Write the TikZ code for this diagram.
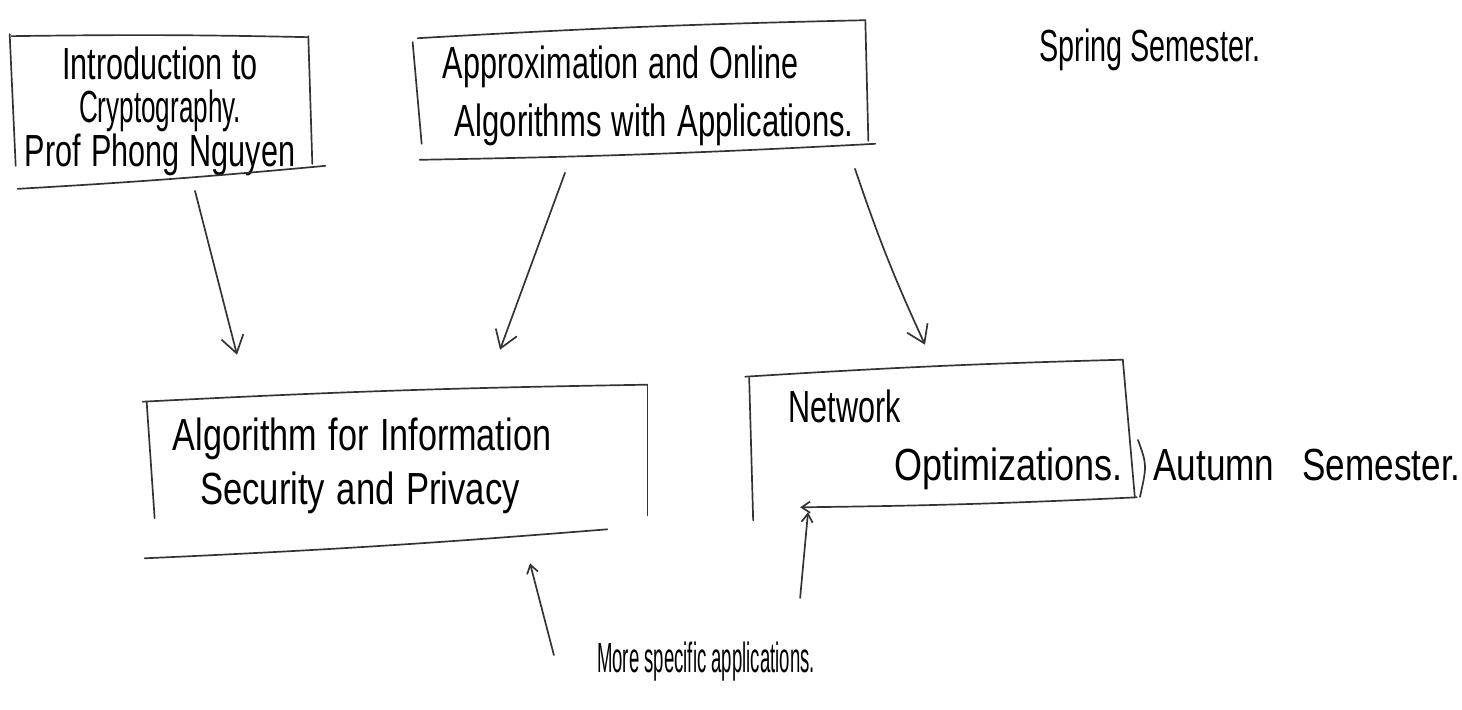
\documentclass[tikz,border=0pt]{standalone}
\usepackage{fontspec}
\setmainfont{Liberation Sans}
\usetikzlibrary{calc,arrows.meta}
\newcommand\hw[2][0.68]{\scalebox{#1}[1]{#2}}
\begin{document}
\begin{tikzpicture}[x=0.025cm,y=-0.025cm,
  hand/.style={line width=1.2pt, draw=black!80, line cap=round, line join=round},
  arr/.style={hand, -{Straight Barb[length=12pt,width=16pt,line width=1.2pt]}},
  smallarr/.style={hand, -{Straight Barb[length=6pt,width=8pt,line width=1.2pt]}},
  box/.style={inner ysep=0pt, font=\fontsize{32}{33}\selectfont},
  lbl/.style={inner sep=0pt, font=\fontsize{32}{33}\selectfont}]
\fill[white] (0,0) rectangle (1462,710);
\useasboundingbox (0,0) rectangle (1462,710);

% boxes
\node[box, minimum width=7.5cm, minimum height=2.95cm, text width=7cm, inner xsep=0.25cm, align=center] (crypto) at (160,111)
  {\hw{Introduction to}\\[-2pt]\hw[0.58]{Cryptography.}\\[-2pt]\hw{Prof Phong Nguyen}};
\node[box, minimum width=11.25cm, minimum height=3.375cm, text width=9.85cm, inner xsep=0.7cm, align=left] (approx) at (640,96)
  {\hw{Approximation and Online}\\[8pt]\hspace*{0.3cm}\hw[0.69]{Algorithms with Applications.}};
\node[box, minimum width=12.5cm, minimum height=3.35cm, text width=11.2cm, inner xsep=0.65cm, align=left] (infosec) at (397,466)
  {\hw[0.76]{Algorithm for Information}\\[5pt]\hspace*{0.68cm}\hw[0.77]{Security and Privacy}};
\node[box, minimum width=9.525cm, minimum height=4cm, text width=7.575cm, inner xsep=0.975cm, align=left] (netopt) at (940,440)
  {\hw{Network}\\[8pt]\hspace*{2.65cm}\hw[0.8]{Optimizations.}};

% free labels
\node[lbl] (spring) at (1150,50) {\hw[0.64]{Spring Semester.}};
\node[lbl] (autumn) at (1307,465) {\hw[0.78]{Autumn\hspace{0.8em}Semester.}};
\node[lbl, font=\fontsize{30}{31}\selectfont] (more) at (706,662) {\hw[0.44]{More specific applications.}};

% hand-drawn outlines: crypto
\draw[hand] ($(crypto.north west)+(2,-10)$) to[bend left=1] ($(crypto.north east)+(-3,-9)$);
\draw[hand] ($(crypto.north west)+(0,-12)$) -- ($(crypto.south west)+(6,-10)$);
\draw[hand] ($(crypto.north east)+(-2,-10)$) -- ($(crypto.south east)+(2,-12)$);
\draw[hand] ($(crypto.south west)+(8,13)$) to[bend right=1] ($(crypto.south east)+(15,-10)$);
% approx
\draw[hand] ($(approx.north west)+(3,10)$) to[bend left=1] ($(approx.north east)+(0,-8)$);
\draw[hand] ($(approx.north west)+(-2,14)$) -- ($(approx.south west)+(7,-20)$);
\draw[hand] ($(approx.north east)+(0,-8)$) -- ($(approx.south east)+(3,-23)$);
\draw[hand] ($(approx.south west)+(5,-4)$) to[bend right=1] ($(approx.south east)+(10,-20)$);
% infosec
\draw[hand] ($(infosec.north west)+(-4,3)$) to[bend left=1] ($(infosec.north east)+(0,-14)$);
\draw[hand] ($(infosec.north west)+(0,3)$) -- ($(infosec.south west)+(8,-15)$);
\draw[hand] ($(infosec.north east)+(0,-14)$) -- ($(infosec.south east)+(0,-18)$);
\draw[hand] ($(infosec.south west)+(-2,25)$) to[bend right=1] ($(infosec.south east)+(-40,-4)$);
% netopt
\draw[hand] ($(netopt.north west)+(-4,17)$) to[bend left=1] ($(netopt.north east)+(-8,0)$);
\draw[hand] ($(netopt.north west)+(0,18)$) -- ($(netopt.south west)+(4,0)$);
\draw[hand] ($(netopt.north east)+(-8,0)$) -- ($(netopt.south east)+(4,-23)$);
\draw[smallarr] ($(netopt.south east)+(6,-23)$) to[bend left=1] ($(netopt.south west)+(51,-13)$);
% bracket before Autumn
\draw[hand] (1138,440) .. controls (1147,465) .. (1140,497);

% connectors
\draw[arr] ($(crypto.south)+(35,15)$) -- ($(infosec.north)+(-160,-44)$);
\draw[arr] ($(approx.south)+(-75,9)$) -- ($(infosec.north)+(103,-49)$);
\draw[arr] ($(approx.south)+(215,5)$) to[bend right=3] ($(netopt.north)+(-15,-15)$);
\draw[smallarr] ($(more.west)+(-43,-7)$) -- ($(infosec.south)+(133,30)$);
\draw[smallarr] ($(more.east)+(-15,-64)$) -- ($(netopt.south)+(-132,-8)$);
\end{tikzpicture}
\end{document}
